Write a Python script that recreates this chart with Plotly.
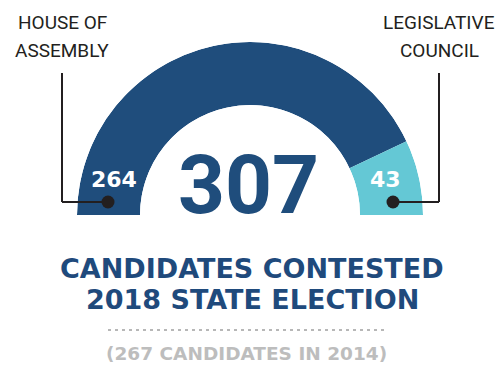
import plotly.graph_objects as go

# Data
categories = ["House of Assembly", "Legislative Council"]
values = [264, 43]
colors = ["#1f4d7c", "#64c8d5"]
total_label = "307"
prev_label = "(267 CANDIDATES IN 2014)"
title_lines = ["CANDIDATES CONTESTED", "2018 STATE ELECTION"]
label_lines = [["HOUSE OF", "ASSEMBLY"], ["LEGISLATIVE", "COUNCIL"]]

W, H = 500, 373
total = sum(values)
widths = [v / total * 180 for v in values]
thetas = []
acc = 0
for w in widths:
    thetas.append(acc + w / 2)
    acc += w

fig = go.Figure()
fig.add_trace(go.Barpolar(
    r=[1] * len(values), theta=thetas, width=widths,
    marker=dict(color=colors, line=dict(width=0)),
    hoverinfo="skip", showlegend=False,
))

def px(x):
    return x / W

def py(y):
    return 1 - y / H

fig.update_layout(
    width=W, height=H,
    margin=dict(l=0, r=0, t=0, b=0),
    paper_bgcolor="white",
    polar=dict(
        domain=dict(x=[px(77), px(423)], y=[py(215), py(42)]),
        sector=[0, 180],
        hole=110 / 173,
        bgcolor="rgba(0,0,0,0)",
        radialaxis=dict(visible=False, range=[0, 1], showgrid=False),
        angularaxis=dict(visible=False, direction="clockwise", rotation=180,
                         showgrid=False),
    ),
    showlegend=False,
)

def note(text, x, y, family, size, color, weight="normal"):
    return dict(text=text, x=px(x), y=py(y), xref="paper", yref="paper",
                showarrow=False, xanchor="center", yanchor="middle", align="center",
                font=dict(family=family, size=size, color=color, weight=weight))

ann = []
ann.append(note(total_label, 248, 185, "Roboto", 82, "#1f4d7c", "bold"))
ann.append(note(values[0], 114, 179, "DejaVu Sans", 22, "white", "bold"))
ann.append(note(values[1], 385, 179, "DejaVu Sans", 22, "white", "bold"))
for cx, lines in zip([62, 439], label_lines):
    ann.append(note(lines[0], cx, 22, "Roboto", 19, "#231f20"))
    ann.append(note(lines[1], cx, 51, "Roboto", 19, "#231f20"))
ann.append(note(title_lines[0], 252, 268, "DejaVu Sans", 27, "#1f4a7c", "bold"))
ann.append(note(title_lines[1], 252, 299, "DejaVu Sans", 27, "#1f4a7c", "bold"))
ann.append(note(prev_label, 246, 353, "DejaVu Sans", 18.5, "#bdbdbd", "bold"))
fig.update_layout(annotations=ann)

shapes = []
lc = "#231f20"
# left callout
shapes.append(dict(type="line", xref="paper", yref="paper", x0=px(62), y0=py(73), x1=px(62), y1=py(202),
                   line=dict(color=lc, width=2)))
shapes.append(dict(type="line", xref="paper", yref="paper", x0=px(62), y0=py(202), x1=px(108), y1=py(202),
                   line=dict(color=lc, width=2)))
shapes.append(dict(type="circle", xref="paper", yref="paper", x0=px(101.5), y0=py(195.5), x1=px(114.5), y1=py(208.5),
                   fillcolor=lc, line=dict(width=0)))
# right callout
shapes.append(dict(type="line", xref="paper", yref="paper", x0=px(439), y0=py(73), x1=px(439), y1=py(202),
                   line=dict(color=lc, width=2)))
shapes.append(dict(type="line", xref="paper", yref="paper", x0=px(393), y0=py(202), x1=px(439), y1=py(202),
                   line=dict(color=lc, width=2)))
shapes.append(dict(type="circle", xref="paper", yref="paper", x0=px(386.5), y0=py(195.5), x1=px(399.5), y1=py(208.5),
                   fillcolor=lc, line=dict(width=0)))
# dashed separator
shapes.append(dict(type="line", xref="paper", yref="paper", x0=px(108), y0=py(330), x1=px(387), y1=py(330),
                   line=dict(color="#a0a0a0", width=1.5, dash="3px,4px")))
fig.update_layout(shapes=shapes)

fig.write_html("out.html", config={"displayModeBar": False},
               post_script="document.body.style.margin='0';")
